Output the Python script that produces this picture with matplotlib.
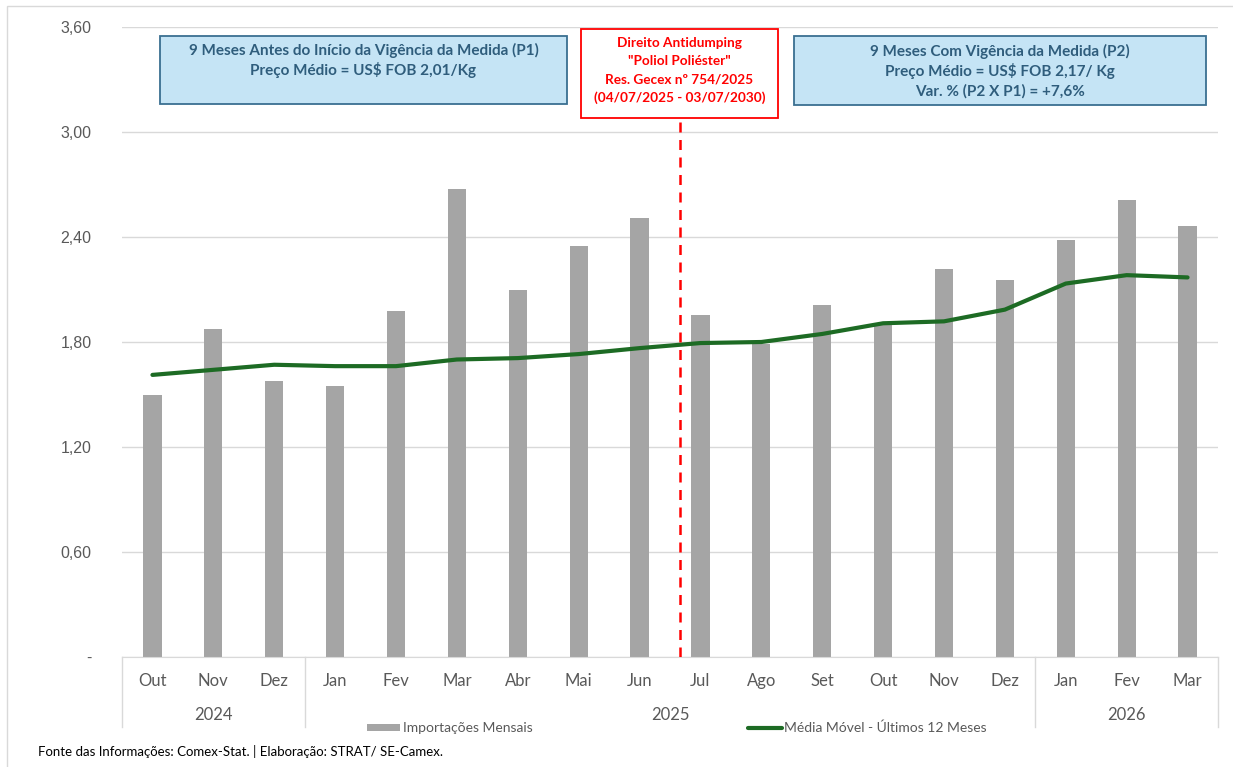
import matplotlib.pyplot as plt
from matplotlib.patches import Rectangle
from matplotlib.lines import Line2D

months = ["Out", "Nov", "Dez", "Jan", "Fev", "Mar", "Abr", "Mai", "Jun",
          "Jul", "Ago", "Set", "Out", "Nov", "Dez", "Jan", "Fev", "Mar"]
years = ["2024", "2025", "2026"]
year_counts = [3, 12, 3]
monthly = [1.495, 1.873, 1.580, 1.551, 1.976, 2.676, 2.095, 2.346, 2.507,
           1.955, 1.790, 2.012, 1.905, 2.215, 2.152, 2.381, 2.610, 2.463]
moving_avg = [1.612, 1.641, 1.670, 1.662, 1.662, 1.700, 1.708, 1.731, 1.765,
              1.794, 1.800, 1.846, 1.907, 1.918, 1.985, 2.134, 2.182, 2.169]
yticks = [0, 0.6, 1.2, 1.8, 2.4, 3.0, 3.6]
ytick_labels = ["-", "0,60", "1,20", "1,80", "2,40", "3,00", "3,60"]

W, H = 1233, 767
narrow = ["Lato", "DejaVu Sans"]
gray_txt = "#595959"

fig = plt.figure(figsize=(W / 100, H / 100), dpi=100)
ax = fig.add_axes([122 / W, 1 - 657 / H, (1218 - 122) / W, (657 - 27) / H])

x = list(range(len(months)))
bars = ax.bar(x, monthly, width=0.3, color="#A5A5A5", zorder=2)
line, = ax.plot(x, moving_avg, color="#1D6B24", lw=3, zorder=3, solid_capstyle="round")

ax.set_xlim(-0.5, len(months) - 0.5)
ax.set_ylim(0, 3.6)
ax.set_yticks(yticks)
ax.set_yticklabels(ytick_labels, family=["Liberation Sans", "DejaVu Sans"],
                   fontsize=11.5, color=gray_txt)
ax.tick_params(axis="y", length=0, pad=22)
ax.yaxis.grid(True, color="#D9D9D9", lw=1, zorder=0)
for s in ["top", "right", "left"]:
    ax.spines[s].set_visible(False)
ax.spines["bottom"].set_color("#D9D9D9")
ax.set_xticks([])

# month labels and year groups
for i, m in enumerate(months):
    ax.annotate(m, (i, 0), xycoords=("data", "axes fraction"),
                xytext=(0, -17.5), textcoords="offset points", ha="center", va="center",
                fontsize=12, color=gray_txt, family=narrow)
start = 0
bounds = [-0.5]
for yr, n in zip(years, year_counts):
    center = start + (n - 1) / 2
    ax.annotate(yr, (center, 0), xycoords=("data", "axes fraction"),
                xytext=(0, -42), textcoords="offset points", ha="center", va="center",
                fontsize=12, color=gray_txt, family=narrow)
    start += n
    bounds.append(start - 0.5)
for b in bounds:
    ax.add_line(Line2D([b, b], [0, -70 / 630], transform=ax.get_xaxis_transform(),
                       color="#D9D9D9", lw=1, clip_on=False))

# red dashed line at start of measure
xv = 9 - 0.34
ax.plot([xv, xv], [0, 3.07], color="#FF0000", lw=1.8, ls=(0, (4, 3)), zorder=4)

# boxes
def box(x0, y0, x1, y1, fc, ec, lines, color, y_first, step, size):
    fig.patches.append(Rectangle((x0 / W, 1 - y1 / H), (x1 - x0) / W, (y1 - y0) / H,
                                 transform=fig.transFigure, fc=fc, ec=ec, lw=1.3))
    for k, ln in enumerate(lines):
        fig.text((x0 + x1) / 2 / W, 1 - (y_first + k * step) / H, ln, ha="center", va="center",
                 fontsize=size, color=color, fontweight="bold", family=narrow)

box(160, 36, 567, 104, "#C5E4F5", "#3A6F91",
    ["9 Meses Antes do Início da Vigência da Medida (P1)",
     "Preço Médio = US$ FOB 2,01/Kg"], "#2F5D7C", 50, 20, 11)
box(794, 36, 1206, 105, "#C5E4F5", "#3A6F91",
    ["9 Meses Com Vigência da Medida (P2)",
     "Preço Médio = US$ FOB 2,17/ Kg",
     "Var. % (P2 X P1) = +7,6%"], "#2F5D7C", 51, 20, 11)
box(581, 29, 778, 118, "white", "#FF0000",
    ["Direito Antidumping", "\"Poliol Poliéster\"",
     "Res. Gecex nº 754/2025", "(04/07/2025 - 03/07/2030)"], "#FF0000", 43, 18.3, 9.8)

# legend
leg = fig.legend([bars, line], ["Importações Mensais", "Média Móvel - Últimos 12 Meses"],
                 loc="center", bbox_to_anchor=(677 / W, 1 - 728 / H), ncol=2,
                 frameon=False, handlelength=2.4, handleheight=0.45, columnspacing=15.5,
                 handletextpad=0.2, prop={"family": narrow, "size": 10})
for t in leg.get_texts():
    t.set_color(gray_txt)

fig.text(38 / W, 1 - 752 / H, "Fonte das Informações: Comex-Stat. | Elaboração: STRAT/ SE-Camex.",
         ha="left", va="center", fontsize=9.5, color="black", family=narrow)

# outer chart border
fig.patches.append(Rectangle((7 / W, -0.1), 1.2, 1 - 6 / H + 0.1, transform=fig.transFigure,
                             fill=False, ec="#D9D9D9", lw=1))

fig.savefig("out.png", dpi=100)
